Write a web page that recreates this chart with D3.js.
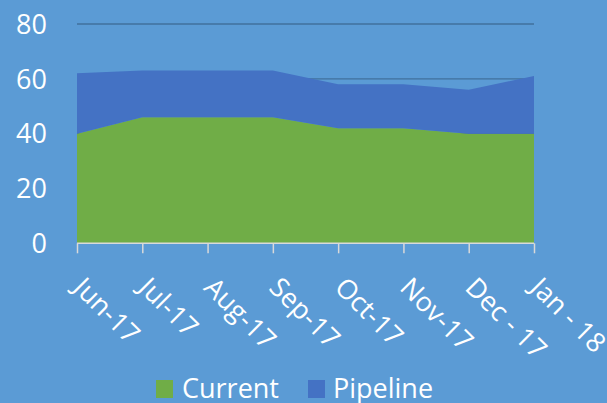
<!DOCTYPE html>
<html>
<head>
<meta charset="utf-8">
<script src="https://cdn.jsdelivr.net/npm/d3@7"></script>
<style>
  html, body { margin: 0; padding: 0; background: #5B9BD5; }
  svg { display: block; }
  text { font-family: "Open Sans", "Noto Sans", sans-serif; fill: #ffffff; }
</style>
</head>
<body>
<svg id="chart" width="607" height="403"></svg>
<script>
const categories = ["Jun-17", "Jul-17", "Aug-17", "Sep-17", "Oct-17", "Nov-17", "Dec - 17", "Jan - 18"];
const currentValues = [40, 46, 46, 46, 42, 42, 40, 40];
const pipelineValues = [22, 17, 17, 17, 16, 16, 16, 21];
const yTicks = [0, 20, 40, 60, 80];
const seriesNames = ["Current", "Pipeline"];
const seriesColors = ["#70AD47", "#4472C4"];

const W = 607, H = 403;
const svg = d3.select("#chart");
svg.append("rect").attr("width", W).attr("height", H).attr("fill", "#5B9BD5");

const x = d3.scalePoint().domain(categories).range([77, 534]);
const y = d3.scaleLinear().domain([0, 80]).range([243.3, 24]);

// gridlines (behind areas)
svg.append("g").selectAll("line").data(yTicks.filter(d => d > 0)).join("line")
  .attr("x1", 77).attr("x2", 534)
  .attr("y1", d => y(d)).attr("y2", d => y(d))
  .attr("stroke", "#41719C").attr("stroke-width", 1.3);

const table = categories.map((c, i) => ({ cat: c, Current: currentValues[i], Pipeline: pipelineValues[i] }));
const stack = d3.stack().keys(seriesNames)(table);

const area = d3.area()
  .x(d => x(d.data.cat))
  .y0(d => y(d[0]))
  .y1(d => y(d[1]));

svg.append("g").selectAll("path").data(stack).join("path")
  .attr("d", area)
  .attr("fill", (d, i) => seriesColors[i]);

// y labels
svg.append("g").selectAll("text").data(yTicks).join("text")
  .attr("x", 47).attr("y", d => y(d))
  .attr("dy", "0.36em")
  .attr("text-anchor", "end")
  .attr("font-size", 27)
  .text(d => d);

// x axis
const xAxis = d3.axisBottom(x).tickSize(10).tickSizeOuter(0).tickFormat("");
const gx = svg.append("g").attr("transform", "translate(0,243.3)").call(xAxis);
gx.select(".domain").attr("stroke", "#D9D9D9").attr("stroke-width", 1.5).attr("d", "M77,0H534");
gx.selectAll(".tick line").attr("stroke", "#D9D9D9").attr("stroke-width", 1.5);

// rotated x labels
svg.append("g").selectAll("text").data(categories).join("text")
  .attr("transform", d => `translate(${x(d) - 5},289) rotate(45)`)
  .attr("text-anchor", "start")
  .attr("font-size", 27)
  .text(d => d);

// legend
const legendItems = [
  { name: seriesNames[0], color: seriesColors[0], sx: 156, tx: 182 },
  { name: seriesNames[1], color: seriesColors[1], sx: 308, tx: 333 }
];
const lg = svg.append("g");
lg.selectAll("rect").data(legendItems).join("rect")
  .attr("x", d => d.sx).attr("y", 380).attr("width", 17).attr("height", 18)
  .attr("fill", d => d.color);
lg.selectAll("text").data(legendItems).join("text")
  .attr("x", d => d.tx).attr("y", 398)
  .attr("font-size", 27)
  .text(d => d.name);
</script>
</body>
</html>
